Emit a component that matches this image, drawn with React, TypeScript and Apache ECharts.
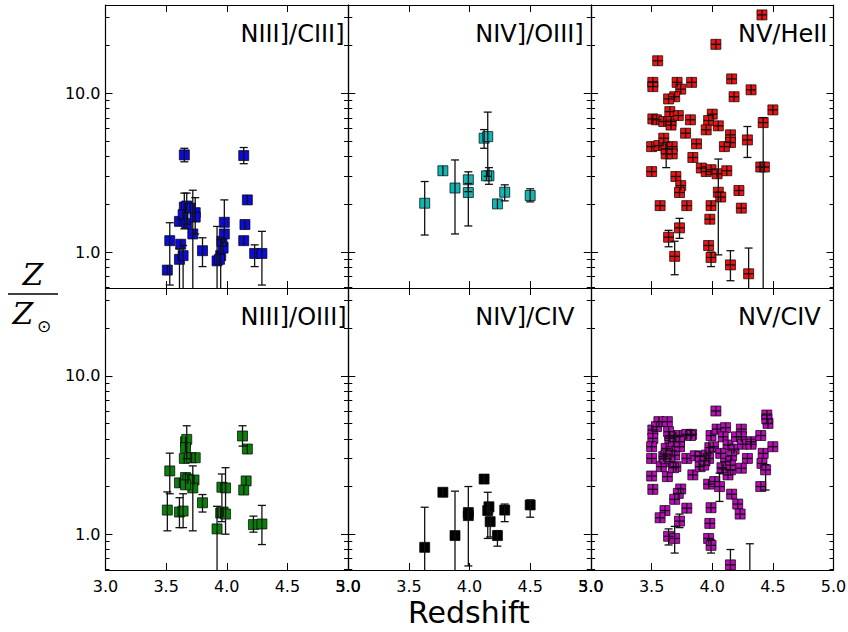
import React, { useEffect, useRef } from "react";
import * as echarts from "echarts";

// Each point: [redshift, Z/Zsun, lower error bound, upper error bound]; null = no visible bar
type Pt = [number, number, number | null, number | null];

const nIIIcIII: Pt[] = [
  [3.65, 4.09, 3.7, 4.5], [4.14, 4.05, 3.6, 4.55], [4.17, 2.13, null, null],
  [4.15, 1.49, null, null], [4.14, 1.18, null, null], [4.23, 0.98, 0.81, 1.11],
  [4.29, 0.98, 0.62, 1.35], [3.8, 1.02, 0.81, 1.23], [3.53, 1.18, 0.62, 1.53],
  [3.51, 0.77, null, null], [3.61, 0.9, 0.3, 1.05], [3.64, 0.95, 0.3, 1.1],
  [3.62, 1.12, null, null], [3.61, 1.56, null, null], [3.65, 1.92, 1.4, 2.35],
  [3.67, 1.95, 1.5, 2.35], [3.64, 1.72, null, null], [3.67, 1.51, null, null],
  [3.74, 1.77, 1.3, 2.2], [3.74, 1.66, null, null], [3.72, 1.3, 0.3, 2.45],
  [3.7, 1.89, null, null], [3.92, 0.88, 0.3, 1.45], [3.95, 0.95, 0.3, 1.2],
  [3.97, 1.06, null, null], [3.96, 1.17, null, null], [3.98, 1.54, 1.15, 2.13],
  [3.98, 1.3, null, null], [3.94, 0.9, null, null],
];

const nIVoIII: Pt[] = [
  [3.63, 2.03, 1.28, 2.78], [3.78, 3.25, null, null], [3.88, 2.53, 1.3, 3.8],
  [3.99, 2.85, 2.4, 3.2], [3.99, 2.37, 1.46, 2.7], [4.12, 5.21, 4.5, 5.9],
  [4.15, 5.33, 3.0, 7.6], [4.16, 3.02, 2.67, 3.4], [4.14, 3.02, null, null],
  [4.23, 2.01, null, null], [4.29, 2.38, 2.1, 2.65], [4.5, 2.27, 2.07, 2.5],
];

const nVheII: Pt[] = [
  [4.41, 31.1, null, null], [4.03, 20.3, null, null], [3.55, 16.0, null, null],
  [3.51, 11.7, null, null], [3.51, 11.0, null, null], [3.71, 11.7, null, null],
  [3.83, 11.7, null, null], [3.74, 10.6, null, null], [3.69, 9.5, null, null],
  [3.64, 9.2, null, null], [4.16, 12.3, null, null], [4.32, 10.5, null, null],
  [4.18, 9.5, null, null], [4.5, 7.85, null, null], [3.51, 6.89, null, null],
  [3.54, 6.8, null, null], [3.6, 6.63, null, null], [3.65, 7.66, null, null],
  [3.66, 6.63, null, null], [3.72, 7.23, null, null], [3.82, 6.8, null, null],
  [3.66, 6.3, null, null], [4.0, 7.38, null, null], [3.97, 6.73, null, null],
  [3.95, 5.88, null, null], [4.05, 6.23, null, null], [4.42, 6.53, 0.3, 6.8],
  [3.78, 5.6, null, null], [4.15, 5.47, null, null], [4.15, 4.89, null, null],
  [4.1, 4.61, null, null], [3.87, 4.8, null, null], [3.5, 4.61, null, null],
  [3.56, 4.68, null, null], [3.6, 5.21, null, null], [3.62, 4.44, null, null],
  [3.67, 4.61, null, null], [3.62, 4.15, 3.4, 4.9], [3.67, 4.15, null, null],
  [4.29, 5.08, 3.94, 6.17], [3.84, 3.94, null, null], [3.5, 3.21, null, null],
  [3.91, 3.38, null, null], [3.95, 3.21, null, null], [3.99, 3.3, null, null],
  [4.04, 3.11, null, null], [4.12, 3.25, null, null], [4.4, 3.43, null, null],
  [4.43, 3.43, null, null], [3.7, 2.99, null, null], [3.74, 2.62, null, null],
  [3.73, 2.37, null, null], [4.05, 2.38, 0.96, 3.85], [4.07, 2.22, null, null],
  [4.22, 2.44, null, null], [4.24, 1.89, null, null], [3.57, 1.96, null, null],
  [3.79, 1.96, null, null], [3.99, 1.96, null, null], [3.98, 1.61, null, null],
  [3.73, 1.42, 1.22, 1.63], [3.64, 1.24, 1.08, 1.37], [3.69, 0.94, 0.72, 1.17],
  [3.97, 1.1, null, null], [3.99, 0.925, 0.81, 1.0], [4.15, 0.83, 0.66, 1.02],
  [4.3, 0.73, 0.3, 1.06],
];

const nIIIoIII: Pt[] = [
  [4.13, 4.17, 3.6, 4.84], [4.17, 3.45, null, null], [4.16, 2.17, null, null],
  [4.14, 1.9, null, null], [4.22, 1.15, 1.03, 1.3], [4.29, 1.16, 0.86, 1.52],
  [3.8, 1.58, 1.38, 1.78], [3.53, 2.51, 1.8, 3.25], [3.51, 1.42, 1.05, 1.85],
  [3.61, 1.38, 1.1, 1.7], [3.64, 1.4, 1.1, 1.8], [3.61, 2.11, null, null],
  [3.66, 3.83, null, null], [3.67, 3.97, 3.0, 4.84], [3.66, 3.52, null, null],
  [3.65, 3.01, null, null], [3.71, 3.04, null, null], [3.74, 3.04, null, null],
  [3.66, 2.28, null, null], [3.68, 2.23, null, null], [3.73, 2.2, null, null],
  [3.72, 1.96, 1.05, 2.7], [3.66, 2.05, null, null], [3.92, 1.08, 0.3, 1.5],
  [3.95, 1.36, null, null], [3.96, 1.98, 1.2, 2.4], [3.99, 1.96, null, null],
  [3.97, 1.38, null, null], [3.99, 1.34, 1.0, 2.63],
];

const nIVcIV: Pt[] = [
  [3.63, 0.826, 0.3, 1.48], [3.78, 1.84, null, null], [3.88, 0.98, 0.3, 1.87],
  [3.99, 1.37, 0.63, 2.0], [3.99, 1.31, null, null], [4.12, 2.23, null, null],
  [4.15, 1.41, 0.94, 1.84], [4.16, 1.49, null, null], [4.17, 1.2, 0.96, 1.39],
  [4.23, 0.98, 0.84, 1.05], [4.29, 1.42, 1.2, 1.55], [4.5, 1.53, 1.28, 1.64],
];

const nVcIV: Pt[] = [
  [4.03, 6.0, null, null], [4.45, 5.66, null, null], [4.46, 5.01, null, null],
  [4.45, 5.35, null, null], [3.56, 5.14, null, null], [3.63, 5.14, null, null],
  [3.51, 4.55, null, null], [3.51, 4.03, null, null], [3.5, 3.57, null, null],
  [3.5, 3.01, null, null], [3.5, 2.33, null, null], [3.51, 1.92, null, null],
  [3.65, 4.03, null, null], [3.65, 4.2, null, null], [3.7, 4.12, null, null],
  [3.73, 4.2, null, null], [3.62, 3.48, null, null], [3.6, 3.09, null, null],
  [3.67, 3.36, null, null], [3.69, 3.16, null, null], [3.73, 3.57, null, null],
  [3.65, 2.87, null, null], [3.7, 2.67, null, null], [3.58, 2.67, null, null],
  [3.63, 2.31, null, null], [3.79, 3.01, null, null], [3.79, 4.27, null, null],
  [3.83, 4.27, null, null], [3.86, 3.13, null, null], [3.9, 3.09, null, null],
  [3.84, 2.37, null, null], [3.9, 2.67, null, null], [3.95, 3.16, null, null],
  [3.97, 3.01, null, null], [3.98, 3.52, null, null], [4.01, 3.57, null, null],
  [3.99, 4.2, null, null], [4.04, 4.61, null, null], [4.11, 4.71, null, null],
  [4.09, 4.12, null, null], [4.13, 3.66, null, null], [4.18, 3.45, null, null],
  [4.16, 3.13, null, null], [4.11, 2.87, null, null], [4.09, 2.58, null, null],
  [4.15, 2.55, null, null], [4.13, 2.37, null, null], [4.24, 4.61, null, null],
  [4.24, 4.12, null, null], [4.2, 4.12, null, null], [4.25, 3.7, null, null],
  [4.32, 3.84, null, null], [4.32, 3.7, null, null], [4.4, 4.2, null, null],
  [4.29, 3.01, null, null], [4.24, 2.61, null, null], [4.42, 3.24, null, null],
  [4.41, 2.8, null, null], [4.44, 2.55, 1.9, 2.75], [4.5, 3.57, null, null],
  [4.4, 2.0, null, null], [3.97, 2.07, null, null], [4.02, 2.15, null, null],
  [4.06, 2.0, 1.61, 2.43], [4.16, 1.79, null, null], [4.21, 1.55, null, null],
  [4.23, 1.34, null, null], [3.74, 1.93, null, null], [3.72, 1.81, null, null],
  [3.69, 1.66, null, null], [3.79, 1.46, null, null], [3.61, 1.41, null, null],
  [3.57, 1.27, null, null], [3.73, 1.21, 1.1, 1.34], [3.99, 1.47, null, null],
  [3.98, 1.17, null, null], [3.64, 0.97, 0.855, 1.08], [3.69, 0.94, 0.76, 1.12],
  [3.97, 0.94, null, null], [3.99, 0.85, 0.76, 0.92], [4.15, 0.64, 0.5, 0.8],
  [4.31, 0.45, 0.3, 0.87], [3.54, 4.78, null, null], [3.64, 4.44, null, null],
  [3.68, 3.84, null, null], [3.62, 3.16, null, null], [3.73, 3.84, null, null],
  [3.82, 4.2, null, null], [3.94, 2.9, null, null], [3.93, 2.73, null, null],
  [4.07, 3.24, null, null], [4.08, 2.63, null, null], [4.15, 2.73, null, null],
  [3.68, 2.63, null, null], [3.61, 3.0, null, null],
];

const panelTitles = ["NIII]/CIII]", "NIV]/OIII]", "NV/HeII", "NIII]/OIII]", "NIV]/CIV", "NV/CIV"];
const panelData = [nIIIcIII, nIVoIII, nVheII, nIIIoIII, nIVcIV, nVcIV];
const panelColors = ["#0c0cd8", "#12b4b4", "#f01212", "#0a800a", "#000000", "#bb0bbb"];
const panelCross = [false, false, true, false, false, true];

const xTicks = { min: 3.0, max: 5.0, step: 0.5 };
const yRange = { min: 0.594, max: 35.9 };
const yMajorTicks = [1, 10];
const yMinorTicks = [0.6, 0.7, 0.8, 0.9, 2, 3, 4, 5, 6, 7, 8, 9, 20, 30];

const FONT = "DejaVu Sans";
const COL_LEFT = [105.5, 348.3, 591];
const COL_WIDTH = 242.5;
const ROW_TOP = [5, 288];
const ROW_HEIGHT = [283, 282];
const TITLE_OFFSET = [135, 127, 147];
const MARK = 10;

function errorBars(cross: boolean) {
  return (_params: any, api: any) => {
    const x = api.value(0);
    const y = api.value(1);
    const lo = api.value(2);
    const hi = api.value(3);
    const c = api.coord([x, y]);
    const half = MARK / 2;
    const stroke = { stroke: "#111", lineWidth: 1.3 };
    const children: any[] = [];
    let top = c[1] - half;
    let bottom = c[1] + half;
    const hasErr = lo > 0 && hi > 0;
    if (hasErr) {
      top = Math.min(top, api.coord([x, hi])[1]);
      bottom = Math.max(bottom, api.coord([x, lo])[1]);
    }
    children.push({ type: "line", shape: { x1: c[0], y1: top, x2: c[0], y2: bottom }, style: stroke });
    if (hasErr) {
      children.push({ type: "line", shape: { x1: c[0] - 4, y1: top, x2: c[0] + 4, y2: top }, style: stroke });
      children.push({ type: "line", shape: { x1: c[0] - 4, y1: bottom, x2: c[0] + 4, y2: bottom }, style: stroke });
    }
    if (cross) {
      children.push({ type: "line", shape: { x1: c[0] - half, y1: c[1], x2: c[0] + half, y2: c[1] }, style: stroke });
    }
    return { type: "group", children };
  };
}

function buildOption() {
  const grid: any[] = [];
  const xAxis: any[] = [];
  const yAxis: any[] = [];
  const series: any[] = [];
  const graphic: any[] = [];
  const logMin = Math.log10(yRange.min);
  const logMax = Math.log10(yRange.max);
  const line = { show: true, onZero: false, lineStyle: { color: "#000", width: 1.2 } };
  const labelStyle = { color: "#000", fontSize: 16, fontFamily: FONT };

  panelData.forEach((points, i) => {
    const row = Math.floor(i / 3);
    const col = i % 3;
    grid.push({
      left: COL_LEFT[col], top: ROW_TOP[row], width: COL_WIDTH, height: ROW_HEIGHT[row],
      containLabel: false, outerBoundsMode: "none",
    });
    ["bottom", "top"].forEach((pos) => {
      xAxis.push({
        type: "value", gridIndex: i, position: pos,
        min: xTicks.min, max: xTicks.max, interval: xTicks.step,
        axisLine: line,
        axisTick: { show: true, inside: true, length: 7, lineStyle: { color: "#000", width: 1 } },
        axisLabel: pos === "bottom" && row === 1
          ? { show: true, margin: 8, formatter: (v: number) => v.toFixed(1), ...labelStyle }
          : { show: false },
        splitLine: { show: false },
      });
    });
    // log axis that carries the data
    yAxis.push({
      type: "log", logBase: 10, gridIndex: i, min: yRange.min, max: yRange.max, show: false,
      axisLine: { show: false, onZero: false },
    });
    // tick axes in log10 space (major and minor, left and right)
    ["left", "right"].forEach((pos) => {
      yAxis.push({
        type: "value", gridIndex: i, position: pos, min: logMin, max: logMax,
        axisLine: line,
        axisTick: { show: true, inside: true, length: 7, customValues: yMajorTicks.map((v) => Math.log10(v)), lineStyle: { color: "#000", width: 1 } },
        axisLabel: pos === "left" && col === 0
          ? { show: true, margin: 5, customValues: yMajorTicks.map((v) => Math.log10(v)), formatter: (v: number) => Math.pow(10, v).toFixed(1), ...labelStyle }
          : { show: false },
        splitLine: { show: false },
      });
      yAxis.push({
        type: "value", gridIndex: i, position: pos, min: logMin, max: logMax,
        axisLine: { show: false, onZero: false },
        axisTick: { show: true, inside: true, length: 4, customValues: yMinorTicks.map((v) => Math.log10(v)), lineStyle: { color: "#000", width: 1 } },
        axisLabel: { show: false },
        splitLine: { show: false },
      });
    });

    series.push({
      type: "scatter", xAxisIndex: 2 * i, yAxisIndex: 5 * i,
      symbol: "rect", symbolSize: MARK, clip: true, silent: true, z: 2,
      itemStyle: { color: panelColors[i], borderColor: "#000", borderWidth: 0.7, opacity: 1 },
      data: points.map((p) => [p[0], p[1]]),
    });
    series.push({
      type: "custom", xAxisIndex: 2 * i, yAxisIndex: 5 * i, clip: true, silent: true, z: 3,
      encode: { x: 0, y: 1 },
      renderItem: errorBars(panelCross[i]),
      data: points.map((p) => [p[0], p[1], p[2] ?? 0, p[3] ?? 0]),
    });

    graphic.push({
      type: "text", x: COL_LEFT[col] + TITLE_OFFSET[col], y: ROW_TOP[row] + 29,
      style: { text: panelTitles[i], fontSize: 24, fontFamily: FONT, fill: "#000", align: "left", verticalAlign: "middle", textAlign: "left", textVerticalAlign: "middle" },
    });
  });

  // axis titles
  graphic.push({
    type: "text", x: 469, y: 612,
    style: { text: "Redshift", fontSize: 30, fontFamily: FONT, fill: "#000", align: "center", verticalAlign: "middle", textAlign: "center", textVerticalAlign: "middle" },
  });
  const zStyle = { fontSize: 30, fontStyle: "italic", fontFamily: "DejaVu Serif", fill: "#000", align: "center", verticalAlign: "middle", textAlign: "center", textVerticalAlign: "middle" };
  graphic.push({ type: "text", x: 33, y: 274, style: { ...zStyle, text: "Z" } });
  graphic.push({ type: "line", shape: { x1: 8, y1: 294, x2: 58, y2: 294 }, style: { stroke: "#000", lineWidth: 1.5 } });
  graphic.push({ type: "text", x: 23, y: 313, style: { ...zStyle, text: "Z" } });
  graphic.push({
    type: "text", x: 44, y: 326,
    style: { text: "\u2299", fontSize: 17, fontFamily: FONT, fill: "#000", align: "center", verticalAlign: "middle", textAlign: "center", textVerticalAlign: "middle" },
  });

  return { animation: false, backgroundColor: "#fff", grid, xAxis, yAxis, series, graphic };
}

export default function App() {
  const ref = useRef<HTMLDivElement>(null);
  useEffect(() => {
    if (!ref.current) return;
    const chart = echarts.init(ref.current, undefined, { renderer: "svg" });
    chart.setOption(buildOption() as any);
    return () => chart.dispose();
  }, []);
  return <div ref={ref} style={{ position: "absolute", left: 0, top: 0, width: 848, height: 632 }} />;
}
